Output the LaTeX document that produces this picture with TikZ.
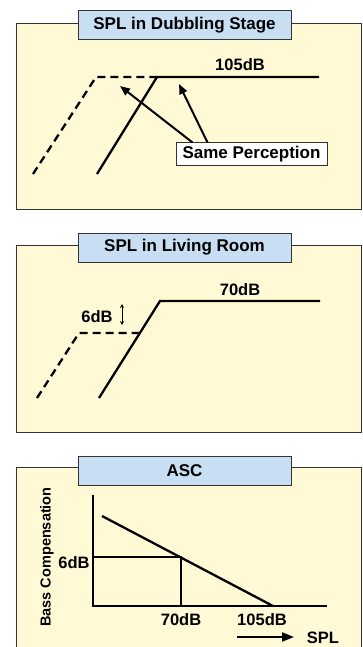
\documentclass[tikz,border=0pt]{standalone}
\usepackage{fontspec}
\setmainfont{Liberation Sans}
\usepackage{xcolor}
\definecolor{panelyellow}{RGB}{255,249,214}
\definecolor{titleblue}{RGB}{200,222,243}
\usetikzlibrary{arrows.meta}

\begin{document}
\begin{tikzpicture}[x=1pt, y=-1pt,
  panel/.style={draw=black!80, line width=0.9pt, fill=panelyellow},
  titlebox/.style={draw=black!80, line width=1pt, fill=titleblue, minimum width=213pt, minimum height=29pt, inner sep=0pt, font=\bfseries\fontsize{17}{19}\selectfont},
  curve/.style={line width=2.3pt},
  dashcurve/.style={line width=2.3pt, dash pattern=on 8pt off 5pt},
  lbl/.style={font=\bfseries\fontsize{16.5}{18}\selectfont},
  pointer/.style={line width=2pt, -{Triangle[length=10pt,width=8pt]}}]
			\useasboundingbox (0,0) rectangle (362,647);
			% dubbling stage
			\draw[panel] (16,23) rectangle (361,209);
			\node[titlebox] (stage) at (184.5,25.5) {SPL in Dubbling Stage};
			\draw[dashcurve] (33,174) -- (96,77) -- (157,77);
			\draw[curve] (97,174) -- (157,77) -- (319,77);
			\node[lbl] (stagelevel) at (240,65) {105dB};
			\node[draw=black!80, fill=white, line width=1pt, minimum width=151pt, minimum height=23pt, inner sep=0pt, font=\bfseries\fontsize{17}{19}\selectfont] (same) at (251.5,154.5) {Same Perception};
			\coordinate (dashtop) at (120,86);
			\coordinate (solidtop) at (179,84);
			\draw[pointer] ([xshift=-59pt]same.north) -- (dashtop);
			\draw[pointer] ([xshift=-44pt]same.north) -- (solidtop);
			% living room
			\draw[panel] (16,245) rectangle (361,432);
			\node[titlebox] (room) at (184.5,247.5) {SPL in Living Room};
			\draw[dashcurve] (37,398) -- (79,333) -- (139,333);
			\draw[curve] (99,398) -- (160,301) -- (320,301);
			\node[lbl] (roomlevel) at (240,290) {70dB};
			\node[lbl] (gap) at (97,317) {6dB};
			\draw[line width=0.8pt, {Stealth[length=4pt,width=4pt]}-{Stealth[length=4pt,width=4pt]}] (122,304) -- (122,325);
			% asc
			\draw[panel] (16,467) rectangle (361,660);
			\node[titlebox] (asc) at (184.5,470.5) {ASC};
			\draw[curve] (93,495) -- (93,606) -- (327,606);
			\draw[curve] (102,516) -- (273,606);
			\draw[curve] (93,557) -- (181,557) -- (181,606);
			\node[lbl] (comp) at (74,563) {6dB};
			\node[lbl] (low) at (181,620) {70dB};
			\node[lbl] (high) at (262,620) {105dB};
			\node[font=\bfseries\fontsize{14.5}{16}\selectfont, rotate=90] (bass) at (47,557) {Bass Compensation};
			\node[lbl] (spl) at (323,638) {SPL};
			\coordinate (splfrom) at (237,637);
			\coordinate (splto) at (294,637);
			\draw[line width=2pt, -{Triangle[length=12pt,width=9pt]}] (splfrom) -- (splto);
		\end{tikzpicture}
\end{document}
